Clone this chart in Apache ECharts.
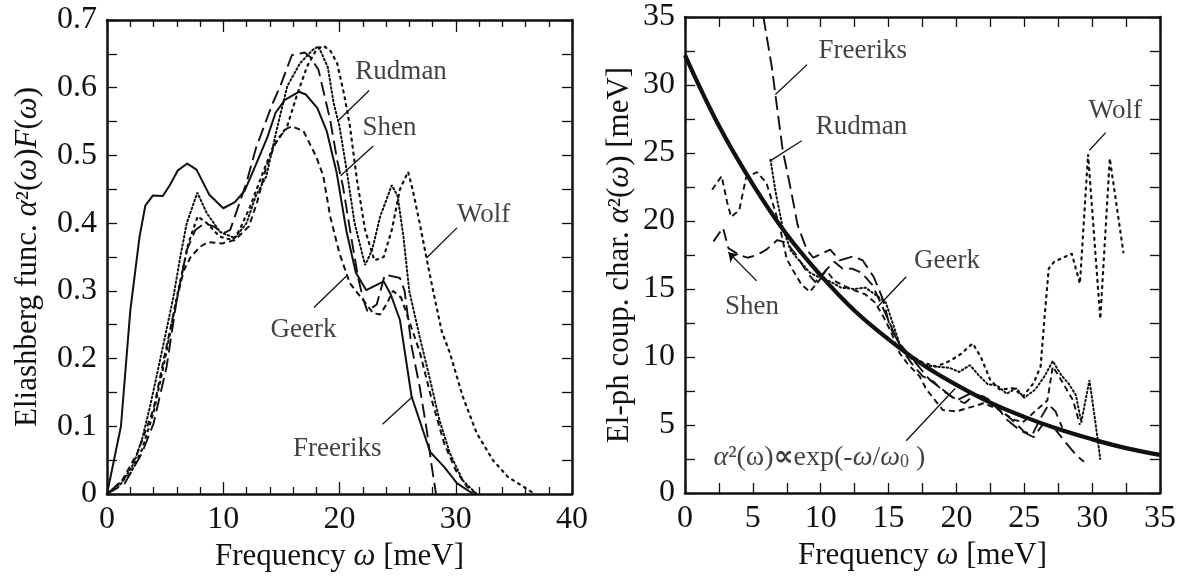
<!DOCTYPE html>
<html><head><meta charset="utf-8">
<script src="https://cdn.jsdelivr.net/npm/echarts@6/dist/echarts.min.js"></script>
<style>html,body{margin:0;padding:0;background:#fff}#c{width:1185px;height:585px}</style>
</head><body><div id="c"></div><script>
// ---------- Left panel: Eliashberg function a2F(w) ----------
const leftXTicks = [0, 10, 20, 30, 40];
const leftYTicks = [0, 0.1, 0.2, 0.3, 0.4, 0.5, 0.6, 0.7];
const freeriksF = [[0,0],[1.2,0.1],[2,0.27],[2.8,0.38],[3.3,0.426],[3.95,0.441],[4.8,0.44],[5.4,0.456],[6.1,0.478],[6.9,0.488],[7.7,0.479],[8.8,0.442],[10,0.422],[11,0.431],[11.85,0.448],[12.8,0.486],[13.8,0.527],[14.5,0.563],[15.3,0.582],[16.5,0.594],[17.1,0.59],[18.1,0.57],[18.9,0.536],[19.75,0.475],[20.6,0.388],[21.4,0.327],[22.3,0.301],[23.8,0.314],[24.4,0.295],[25.2,0.257],[26.2,0.144],[27.8,0.062],[29,0.04],[30.1,0.016],[31.5,0]];
const geerkF = [[0,0],[1.3,0.02],[2.6,0.06],[4,0.125],[4.9,0.2],[5.9,0.28],[6.6,0.33],[7.2,0.35],[8,0.365],[8.7,0.372],[9.9,0.37],[11,0.375],[12.2,0.395],[12.9,0.43],[13.7,0.483],[14.6,0.523],[15.5,0.54],[15.9,0.543],[16.9,0.536],[18,0.498],[18.6,0.47],[19.2,0.41],[20,0.355],[20.9,0.311],[22,0.287],[22.9,0.267],[23.5,0.265],[24.1,0.282],[24.6,0.3],[25.3,0.29],[26,0.255],[26.9,0.21],[28,0.135],[29,0.075],[30,0.035],[31,0.01],[31.8,0]];
const shenF = [[0,0],[1.5,0.015],[3,0.06],[4,0.104],[5.13,0.188],[6,0.287],[6.86,0.36],[7.6,0.39],[8.4,0.4],[9.2,0.395],[10,0.385],[10.6,0.39],[11.2,0.42],[12,0.46],[12.8,0.51],[13.4,0.538],[14.2,0.575],[14.9,0.602],[15.9,0.648],[17,0.652],[17.5,0.645],[18.2,0.626],[19.2,0.552],[19.8,0.493],[20.3,0.454],[21,0.38],[21.6,0.32],[22,0.29],[22.4,0.27],[23.2,0.28],[23.9,0.324],[25.2,0.319],[25.6,0.3],[26.2,0.218],[26.9,0.158],[27.5,0.095],[27.9,0.045],[28.3,0]];
const rudmanF = [[0,0],[1.2,0.015],[2.3,0.045],[3,0.08],[3.7,0.129],[4.84,0.22],[5.7,0.29],[6.3,0.35],[6.86,0.4],[7.77,0.445],[8.58,0.415],[9.72,0.387],[11,0.378],[12,0.4],[12.8,0.44],[13.7,0.469],[14.6,0.538],[15.5,0.602],[16.6,0.636],[17.7,0.656],[18.2,0.661],[19,0.63],[19.5,0.577],[20,0.543],[20.6,0.48],[21.3,0.4],[22.2,0.338],[22.8,0.36],[23.5,0.41],[24.5,0.456],[25,0.44],[25.5,0.38],[26,0.3],[26.9,0.232],[27.8,0.168],[28.6,0.109],[29.5,0.06],[30.6,0.02],[31.8,0]];
const wolfF = [[0,0],[2,0.03],[3,0.065],[4,0.12],[5,0.2],[6,0.29],[7,0.37],[7.8,0.41],[8.6,0.4],[9.7,0.38],[10.8,0.375],[11.4,0.39],[12.3,0.424],[13.4,0.474],[14.3,0.513],[15.5,0.543],[16.3,0.587],[17.2,0.631],[18,0.656],[18.6,0.662],[19.2,0.655],[19.8,0.636],[20.4,0.59],[20.9,0.543],[21.5,0.464],[22.2,0.39],[23,0.345],[23.8,0.35],[24.5,0.39],[25.2,0.45],[25.9,0.476],[26.3,0.449],[26.9,0.4],[27.5,0.347],[28.1,0.296],[28.8,0.24],[29.5,0.208],[30.6,0.144],[31.8,0.09],[33.2,0.05],[34.5,0.025],[35.9,0.01],[36.8,0]];

// ---------- Right panel: coupling a2(w) ----------
const rightXTicks = [0, 5, 10, 15, 20, 25, 30, 35];
const rightYTicks = [0, 5, 10, 15, 20, 25, 30, 35];
const fitX = [0,2.5,5,7.5,10,12.5,15,17.5,20,22.5,25,27.5,30,32.5,35];
const fitY = [32.2,27.0,22.7,19.0,16.0,13.4,11.3,9.45,7.95,6.65,5.6,4.7,3.95,3.3,2.8];
const freeriksA = [[5.78,35],[6.4,31.3],[6.66,29.3],[7.2,25.2],[7.76,22.5],[8.3,19.7],[8.97,17.9],[9.45,17.3],[10.7,17.9],[11.4,17.1],[12.4,17.4],[13.1,17.1],[13.9,15.9],[14.6,14.2],[15.1,12.2],[15.8,11],[16.8,9.8],[18.05,8.3],[19,7.6],[20,6.8],[21,7.3],[22,7.1],[22.8,6.6],[23.7,5.4],[24.7,4.6],[25.7,4.1],[26.4,5.1],[27.1,4.9],[27.9,3.9],[28.9,2.7],[29.4,2.3]];
const rudmanA = [[6.3,24.5],[6.7,22],[7.2,19.5],[7.8,17.8],[8.5,17],[9.2,16.2],[10,15.8],[10.8,15.5],[11.5,15.1],[12.5,15.0],[13.3,15.1],[14,14.6],[14.8,14],[15.3,12.5],[15.8,11],[16.5,10],[17.5,9.4],[18.5,9.3],[19.5,9.2],[20.2,8.9],[21,9.4],[21.6,8.7],[22.3,8.0],[23,7.9],[23.7,7.3],[24.4,7.7],[25,7.0],[25.8,7.6],[26.5,8.6],[27.1,9.7],[27.7,8.7],[28.3,8.0],[28.8,7.2],[29.2,5.2],[29.8,8.3],[30.2,5.5],[30.6,2.5]];
const wolfA = [[16.5,10.2],[17.5,9.6],[18.5,9.3],[19.5,9.7],[20.3,10.2],[21.2,11.0],[21.8,10.0],[22.5,8.3],[23.2,7.6],[24.2,7.7],[24.9,7.1],[25.7,8.1],[26.2,9.3],[26.5,13],[26.8,16.5],[27.2,17.0],[28.5,17.6],[29.1,15.4],[29.7,24.9],[30.6,12.8],[31.3,24.6],[32.3,17.7]];
const geerkA = [[2,22.3],[2.7,23.3],[3.1,21.4],[3.4,20.3],[4,20.8],[4.5,23.2],[5.3,23.6],[6,22.8],[6.5,21.2],[7,19.5],[7.5,17.2],[8,16.3],[8.6,15.3],[9.2,14.8],[9.8,15.5],[10.4,16.4],[11,15.6],[11.8,15.2],[12.5,14.9],[13.3,14.6],[14,14],[14.6,13],[15.2,11.8],[15.8,10.3],[16.4,9.5],[17.3,8.55],[17.8,7.6],[19,6.1],[20,6.0],[21.2,6.35],[22,6.6],[23,6.2],[24.2,5.4],[24.9,5.2],[25.9,6.1],[26.7,6.8],[27.1,9.3],[27.6,8.5],[28.6,6.8],[29.1,5.0]];
const shenA = [[2.1,18.5],[2.8,19.5],[3.2,18.0],[4,17.5],[4.6,17.3],[5.3,17.5],[6,17.9],[6.8,18.6],[7.5,18.4],[8.2,17.5],[9,16.2],[9.6,15.5],[10.5,16.5],[11,17.0],[11.6,16.5],[12.3,16.5],[13,16.2],[13.8,15.3],[14.5,13.8],[15.3,12.0],[16,10.5],[16.8,9.4],[17.5,8.6],[18.3,8.2],[19,7.5],[19.8,7.0],[20.6,6.6],[21.3,7.2],[22,6.9],[22.8,6.4],[23.6,5.8],[24.3,5.2],[25,4.5],[25.6,4.3],[26.2,5.5],[26.8,6.5],[27.3,6.0],[27.8,4.8]];

// ---------- annotation texts (data coords) ----------
const leftLabels = [['Rudman',25.3,0.623],['Shen',24.3,0.541],['Wolf',32.4,0.412],['Geerk',16.9,0.243],['Freeriks',19.8,0.067]];
const leftPointers = [[[22.55,0.596],[19.92,0.552]],[[22.9,0.514],[20.1,0.47]],[[30.1,0.393],[27.5,0.349]],[[17.8,0.2755],[20.6,0.322]],[[23.7,0.103],[26.3,0.144]]];
const rightLabels = [['Freeriks',13.1,32.5],['Rudman',13.0,26.9],['Wolf',31.7,28.1],['Shen',4.93,13.7],['Geerk',19.3,17.1]];
const rightPointers = [[[9.0,31.5],[6.66,29.3]],[[8.6,25.9],[6.25,24.4]],[[31.0,26.5],[29.8,25.2]],[[16.3,15.9],[14.2,13.7]],[[16.3,3.84],[19.9,7.68]]];
const shenArrow = [[5.28,15.6],[3.2,17.7]];
const formulaPos = [9.9, 2.6];

const FONT = 'Liberation Serif';
const INK = '#111';

function axisPair(gridIndex, min, max, interval, minorSplit, majorLen, minorLen, fmt, isX, name, nameGap){
  const common = {
    gridIndex, type:'value', min, max, interval,
    axisLine:{show:true, onZero:false, lineStyle:{color:INK, width:2.5}},
    axisTick:{show:true, inside:true, length:majorLen, lineStyle:{color:INK, width:1.3}},
    minorTick:{show:true, splitNumber:minorSplit, length:minorLen, lineStyle:{color:INK, width:1.3}},
    splitLine:{show:false}, minorSplitLine:{show:false}
  };
  const main = Object.assign({}, common, {
    position: isX ? 'bottom' : 'left',
    axisLabel:{show:true, color:INK, fontFamily:FONT, fontSize:32, margin:10, formatter:fmt},
    name, nameLocation:'middle', nameGap,
    nameTextStyle:{color:INK, fontFamily:FONT, fontSize:31, rich:{
      i:{fontStyle:'italic', fontFamily:FONT, fontSize:31, color:INK},
      n:{fontFamily:FONT, fontSize:31, color:INK}
    }}
  });
  const mirror = Object.assign({}, common, {
    position: isX ? 'top' : 'right',
    axisLabel:{show:false}
  });
  return [main, mirror];
}

const fmtL = v => v === 0 ? '0' : (Math.round(v*10)/10).toFixed(1);
const fmtInt = v => String(Math.round(v));

const lx = axisPair(0, leftXTicks[0], leftXTicks[leftXTicks.length-1], 10, 5, 12, 7, fmtInt, true, '{n|Frequency }{i|ω}{n| [meV]}', 44);
const ly = axisPair(0, leftYTicks[0], leftYTicks[leftYTicks.length-1], 0.1, 2, 10, 10, fmtL, false, '{n|Eliashberg func. }{i|α}{n|²(}{i|ω}{n|)}{i|F}{n|(}{i|ω}{n|)}', 64);
const rx = axisPair(1, rightXTicks[0], rightXTicks[rightXTicks.length-1], 5, 2, 10, 10, fmtInt, true, '{n|Frequency }{i|ω}{n| [meV]}', 44);
const ry = axisPair(1, rightYTicks[0], rightYTicks[rightYTicks.length-1], 5, 2, 10, 10, fmtInt, false, '{n|El-ph coup. char. }{i|α}{n|²(}{i|ω}{n|) [meV]}', 50);

function curve(name, data, xi, yi, type, width, cap){
  return {type:'line', name, data, xAxisIndex:xi, yAxisIndex:yi, showSymbol:false, symbol:'none', smooth:false,
    clip:true, silent:true, z:3,
    lineStyle:{color:INK, width, type, cap:cap||'butt'}};
}
function textSeries(list, xi, yi){
  return {type:'scatter', xAxisIndex:xi, yAxisIndex:yi, symbolSize:0, silent:true, z:5,
    data:list.map(l=>({value:[l[1],l[2]], name:l[0]})),
    label:{show:true, position:'inside', formatter:p=>p.name, color:INK, fontFamily:FONT, fontSize:27}};
}
function pointerSeries(list, xi, yi){
  return {type:'lines', coordinateSystem:'cartesian2d', xAxisIndex:xi, yAxisIndex:yi, silent:true, z:5,
    symbol:['none','none'], lineStyle:{color:INK, width:1.3, opacity:1},
    data:list.map(p=>({coords:p}))};
}

const chart = echarts.init(document.getElementById('c'), null, {renderer:'canvas'});
chart.setOption({
  animation:false,
  backgroundColor:'#fff',
  grid:[
    {left:107, top:20, width:465, height:474, show:false},
    {left:685, top:17, width:475, height:476, show:false}
  ],
  xAxis:[lx[0], lx[1], rx[0], rx[1]],
  yAxis:[ly[0], ly[1], ry[0], ry[1]],
  series:[
    curve('Freeriks', freeriksF, 0, 0, 'solid', 2),
    curve('Geerk', geerkF, 0, 0, [6,4], 2),
    curve('Shen', shenF, 0, 0, [14,6], 1.9),
    curve('Rudman', rudmanF, 0, 0, [1.6,2.6], 2, 'round'),
    curve('Wolf', wolfF, 0, 0, [2,5], 2.2, 'round'),
    textSeries(leftLabels, 0, 0),
    pointerSeries(leftPointers, 0, 0),

    {type:'line', name:'fit', data:fitX.map((x,i)=>[x, fitY[i]]), xAxisIndex:2, yAxisIndex:2, showSymbol:false, symbol:'none', smooth:0.4, clip:true, silent:true, z:4, lineStyle:{color:INK, width:4.2}},
    curve('FreeriksA', freeriksA, 2, 2, [14,6], 1.9),
    curve('RudmanA', rudmanA, 2, 2, [1.6,2.6], 2, 'round'),
    curve('WolfA', wolfA, 2, 2, [2,5], 2.2, 'round'),
    curve('GeerkA', geerkA, 2, 2, [6,4], 1.9),
    curve('ShenA', shenA, 2, 2, [12,6], 1.9),
    textSeries(rightLabels, 2, 2),
    pointerSeries(rightPointers, 2, 2),
    {type:'lines', coordinateSystem:'cartesian2d', xAxisIndex:2, yAxisIndex:2, silent:true, z:5,
      symbol:['none','arrow'], symbolSize:9, lineStyle:{color:INK, width:1.3, opacity:1},
      data:[{coords:shenArrow}]},
    {type:'scatter', xAxisIndex:2, yAxisIndex:2, symbolSize:0, silent:true, z:5,
      data:[{value:formulaPos}],
      label:{show:true, position:'inside', color:INK, fontFamily:FONT, fontSize:28,
        formatter:'{i|α}{n|²(ω)}{b|∝}{n|exp(-}{i|ω}{n|/}{i|ω}{s|0}{n| )}',
        rich:{i:{fontStyle:'italic', fontFamily:FONT, fontSize:28, color:INK},
              n:{fontFamily:FONT, fontSize:28, color:INK},
              b:{fontFamily:'DejaVu Sans', fontWeight:'bold', fontSize:28, color:INK},
              s:{fontFamily:FONT, fontSize:18, color:INK, padding:[10,0,0,0]}}}}
  ]
});
</script></body></html>
